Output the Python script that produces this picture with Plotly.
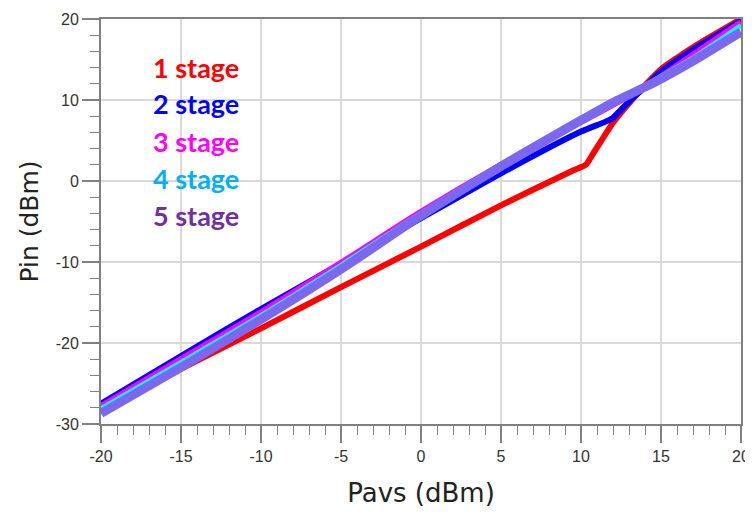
import plotly.graph_objects as go

# ---- data ----
x_red = [-20, -15, -10, -5, 0, 5, 9.5, 10.3, 10.7, 12, 13, 14, 15, 16, 17, 18, 20]
y_red = [-28.5, -23.2, -18.2, -13.1, -8.1, -3.0, 1.3, 2.0, 3.2, 7.2, 9.6, 11.8, 13.8, 15.2, 16.5, 17.7, 20.0]

x_blue = [-20, -15, -10, -5, 0, 5, 10, 11.5, 12, 12.4, 13, 14, 15, 17, 20]
y_blue = [-27.5, -21.6, -15.8, -10.2, -4.6, 0.95, 6.1, 7.3, 7.8, 8.6, 9.8, 11.6, 13.5, 16.2, 19.8]

x_common = [-20, -15, -10, -5, 0, 5, 10, 12, 14, 15, 17, 20]
y_magenta = [-27.8, -22.0, -16.2, -10.1, -3.8, 2.0, 7.3, 9.4, 11.6, 12.9, 15.6, 19.6]
y_cyan = [-28.1, -22.4, -16.6, -10.4, -4.0, 2.0, 7.6, 9.8, 11.8, 12.9, 15.2, 19.2]
y_purple = [-28.7, -23.0, -17.1, -10.9, -4.3, 1.8, 7.5, 9.7, 11.6, 12.6, 14.8, 18.4]

x_ticks = [-20, -15, -10, -5, 0, 5, 10, 15, 20]
x_tick_labels = ["-20", "-15", "-10", "-5", "0", "5", "10", "15", "20"]
y_ticks = [-30, -20, -10, 0, 10, 20]
y_tick_labels = ["-30", "-20", "-10", "0", "10", "20"]

labels = ["1 stage", "2 stage", "3 stage", "4 stage", "5 stage"]
label_colors = ["#FF0000", "#0000FF", "#FF00FF", "#00B0F0", "#7030A0"]
label_y = [14.0, 9.6, 4.9, 0.3, -4.2]

fig = go.Figure()
series = [
    (x_red, y_red, "#FF0000", 6),
    (x_blue, y_blue, "#0000FF", 6),
    (x_common, y_magenta, "#FF00FF", 6),
    (x_common, y_cyan, "#00FFFF", 5),
    (x_common, y_purple, "#7B68EE", 9),
]
for (xs, ys, c, w), name in zip(series, labels):
    fig.add_trace(go.Scatter(x=xs, y=ys, mode="lines", name=name,
                             line=dict(color=c, width=w, shape="spline", smoothing=0.6),
                             showlegend=False))

for t, c, yy in zip(labels, label_colors, label_y):
    fig.add_annotation(x=-16.9, y=yy, xref="x", yref="y", text="<b>%s</b>" % t,
                       showarrow=False, xanchor="left", yanchor="middle",
                       font=dict(family="Lato, Open Sans, sans-serif", size=27, color=c))

axis_common = dict(
    showline=True, linecolor="#808080", linewidth=2, mirror=True,
    showgrid=True, gridcolor="#D9D9D9", gridwidth=1.5,
    ticks="outside", ticklen=17, tickwidth=1.5, tickcolor="#808080",
    tickfont=dict(family="Liberation Sans, Arial, sans-serif", size=16, color="#333333"),
    zeroline=False, automargin=False,
)

fig.update_xaxes(range=[-20, 20], tickvals=x_ticks, ticktext=x_tick_labels,
                 minor=dict(dtick=1, tick0=0, ticks="outside", ticklen=9, tickcolor="#808080", tickwidth=1.2, showgrid=False),
                 title=dict(text="Pavs (dBm)", standoff=20,
                            font=dict(family="DejaVu Sans, Verdana, sans-serif", size=26, color="#222222")),
                 **axis_common)
fig.update_yaxes(range=[-30, 20], tickvals=y_ticks, ticktext=y_tick_labels,
                 minor=dict(dtick=2, tick0=0, ticks="outside", ticklen=9, tickcolor="#808080", tickwidth=1.2, showgrid=False),
                 title=dict(text="Pin (dBm)", standoff=10,
                            font=dict(family="DejaVu Sans, Verdana, sans-serif", size=25, color="#222222")),
                 **axis_common)

# the page body adds an 8px offset, so the figure is sized to fit the window
fig.update_layout(width=745, height=512, margin=dict(l=93, r=12, t=11, b=96),
                  plot_bgcolor="white", paper_bgcolor="white")

fig.write_html("out.html")
